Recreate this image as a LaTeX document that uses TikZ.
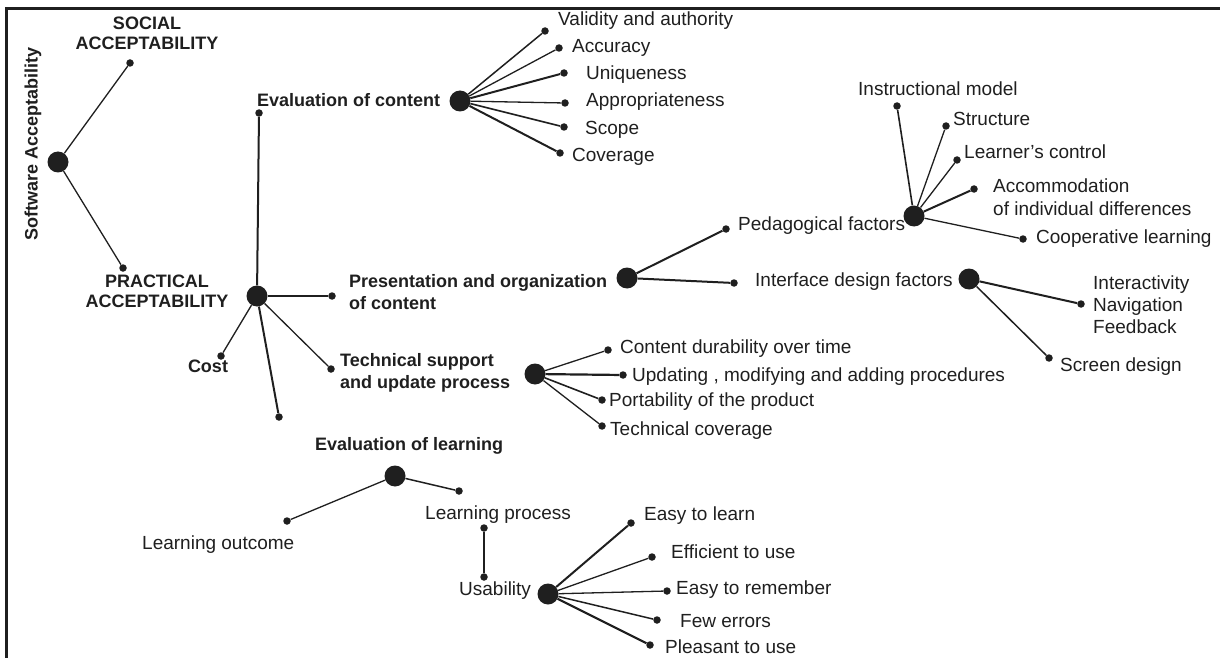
\documentclass[tikz,border=0pt]{standalone}
\usepackage{fontspec}
\setmainfont{Liberation Sans}
\definecolor{ink}{gray}{0.12}
\tikzset{
	bigdot/.style={circle, fill=ink, inner sep=0pt, minimum size=21pt},
	smalldot/.style={circle, fill=ink, inner sep=0pt, minimum size=7.5pt},
	thinlink/.style={draw=ink, line width=1.3pt},
	boldlink/.style={draw=ink, line width=2pt},
	leaftext/.style={anchor=base west, inner sep=0pt, text=ink, align=left, font=\fontsize{19}{23}\selectfont},
	headtext/.style={anchor=base west, inner sep=0pt, text=ink, align=left, font=\bfseries\fontsize{18}{22}\selectfont},
	capstext/.style={headtext, anchor=center, align=center, font=\bfseries\fontsize{18}{20}\selectfont}
}
\begin{document}
\begin{tikzpicture}[x=1pt, y=-1pt]
	\useasboundingbox (0,0) rectangle (1224,658);
	\draw[ink, line width=3pt] (6,658) -- (6,9) -- (1220,9);
	% software acceptability
	\node[bigdot] (soft) at (58,162) {};
	\node[smalldot] (social) at (130,63) {};
	\node[smalldot] (practical) at (123,268) {};
	\draw[thinlink] (soft) -- (social);
	\draw[thinlink] (soft) -- (practical);
	\node[headtext, anchor=center, rotate=90] (softtext) at (33,144) {Software Acceptability};
	\node[capstext] (socialtext) at (147,33) {SOCIAL\\ACCEPTABILITY};
	\node[capstext] (practicaltext) at (157,291) {PRACTICAL\\ACCEPTABILITY};
	% practical acceptability
	\node[bigdot] (prac) at (257,296) {};
	\node[smalldot] (content) at (259,113) {};
	\node[smalldot] (present) at (332,296) {};
	\node[smalldot] (cost) at (221,356) {};
	\node[smalldot] (support) at (331,369) {};
	\node[smalldot] (learning) at (279,417) {};
	\draw[boldlink] (prac) -- (content);
	\draw[thinlink] (prac) -- (present);
	\draw[thinlink] (prac) -- (cost);
	\draw[thinlink] (prac) -- (support);
	\draw[boldlink] (prac) -- (learning);
	\node[headtext] (contenttext) at (257,107) {Evaluation of content};
	\node[headtext, anchor=west] (presenttext) at (349,292) {Presentation and organization\\of content};
	\node[headtext, anchor=base] (costtext) at (208,372) {Cost};
	\node[headtext, anchor=west] (supporttext) at (340,373) {Technical support\\and update process};
	\node[headtext] (learningtext) at (315,450) {Evaluation of learning};
	% evaluation of content
	\node[bigdot] (evc) at (460,101) {};
	\foreach \i/\dx/\dy/\tx/\ty/\w/\t in {
		1/545/31/558/26/1.5/Validity and authority,
		2/559/48/572/53/1.3/Accuracy,
		3/564/73/586/80/2/Uniqueness,
		4/565/103/586/107/1.3/Appropriateness,
		5/564/127/585/135/1.6/Scope,
		6/560/153/572/162/2/Coverage}{
		\node[smalldot] (evc\i) at (\dx,\dy) {};
		\draw[ink, line width=\w pt] (evc) -- (evc\i);
		\node[leaftext] (evct\i) at (\tx,\ty) {\t};
	}
	% presentation and organization
	\node[bigdot] (evp) at (627,278) {};
	\node[smalldot] (peda) at (726,229) {};
	\node[smalldot] (face) at (734,283) {};
	\draw[boldlink] (evp) -- (peda);
	\draw[boldlink] (evp) -- (face);
	\node[leaftext] (pedatext) at (738,230) {Pedagogical factors};
	\node[leaftext] (facetext) at (755,286) {Interface design factors};
	\node[bigdot] (ped) at (914,216) {};
	\foreach \i/\dx/\dy/\tx/\ty/\w/\t in {
		1/897/106/858/96/1.6/Instructional model,
		2/946/126/953/126/1.3/Structure,
		3/957/160/964/159/1.3/Learner’s control,
		5/1023/239/1036/243/1.3/Cooperative learning}{
		\node[smalldot] (ped\i) at (\dx,\dy) {};
		\draw[ink, line width=\w pt] (ped) -- (ped\i);
		\node[leaftext] (pedt\i) at (\tx,\ty) {\t};
	}
	\node[smalldot] (ped4) at (974,189) {};
	\draw[boldlink] (ped) -- (ped4);
	\node[leaftext, anchor=west] (pedt4) at (993,197) {Accommodation\\of individual differences};
	\node[bigdot] (int) at (969,279) {};
	\node[smalldot] (int1) at (1081,304) {};
	\node[smalldot] (int2) at (1049,358) {};
	\draw[boldlink] (int) -- (int1);
	\draw[ink, line width=1.5pt] (int) -- (int2);
	\node[leaftext, anchor=west, font=\fontsize{19}{22}\selectfont] (intt1) at (1093,305) {Interactivity\\Navigation\\Feedback};
	\node[leaftext] (intt2) at (1060,371) {Screen design};
	% technical support
	\node[bigdot] (evt) at (535,374) {};
	\foreach \i/\dx/\dy/\tx/\ty/\w/\t in {
		1/608/350/620/353/1.3/Content durability over time,
		2/623/375/632/381/2.2/{Updating , modifying and adding procedures},
		3/602/400/609/406/1.6/Portability of the product,
		4/602/426/610/435/1.3/Technical coverage}{
		\node[smalldot] (evt\i) at (\dx,\dy) {};
		\draw[ink, line width=\w pt] (evt) -- (evt\i);
		\node[leaftext] (evtt\i) at (\tx,\ty) {\t};
	}
	% evaluation of learning
	\node[bigdot] (evl) at (395,476) {};
	\node[smalldot] (outcome) at (287,521) {};
	\node[smalldot] (process) at (459,491) {};
	\draw[thinlink] (evl) -- (outcome);
	\draw[ink, line width=1.5pt] (evl) -- (process);
	\node[leaftext] (outcometext) at (142,549) {Learning outcome};
	\node[leaftext] (processtext) at (425,519) {Learning process};
	\node[smalldot] (procdot) at (484,528) {};
	\node[smalldot] (usedot) at (484,577) {};
	\draw[boldlink] (procdot) -- (usedot);
	\node[leaftext] (usetext) at (459,595) {Usability};
	\node[bigdot] (use) at (548,594) {};
	\foreach \i/\dx/\dy/\tx/\ty/\w/\t in {
		1/631/523/644/520/2/Easy to learn,
		2/652/557/671/558/1.3/Efficient to use,
		3/667/591/676/594/1.3/Easy to remember,
		4/657/620/680/627/1.5/Few errors,
		5/650/645/665/653/2.2/Pleasant to use}{
		\node[smalldot] (use\i) at (\dx,\dy) {};
		\draw[ink, line width=\w pt] (use) -- (use\i);
		\node[leaftext] (uset\i) at (\tx,\ty) {\t};
	}
\end{tikzpicture}
\end{document}
